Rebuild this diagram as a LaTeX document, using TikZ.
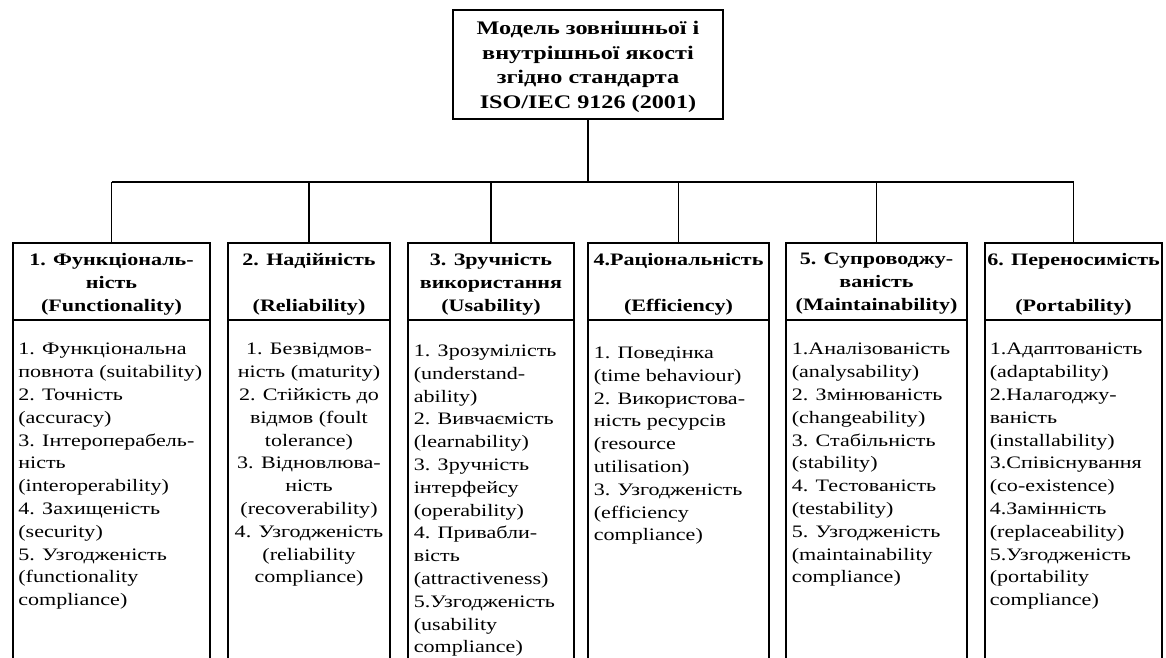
\documentclass[tikz,border=0pt]{standalone}
\usepackage{fontspec}
\setmainfont{Liberation Serif}[FakeStretch=1.26]
\usetikzlibrary{positioning}

\begin{document}
\begin{tikzpicture}[
  x=1pt, y=-1pt,
  line width=1.7pt,
  every node/.style={font=\fontsize{17.5}{22.8}\selectfont},
  headbox/.style={draw, minimum height=77pt, inner sep=0pt, outer sep=0pt},
  headtext/.style={inner sep=0pt, align=center, font=\fontsize{17.5}{23}\selectfont\bfseries},
  bodybox/.style={draw, minimum height=420pt, inner sep=0pt, outer sep=0pt},
  item/.style={inner sep=0pt, align=left, anchor=north west},
  itemc/.style={inner sep=0pt, align=center, anchor=north}
]
\useasboundingbox (0,0) rectangle (1166,657);
\clip (0,0) rectangle (1166,657);

\node[draw, minimum width=270pt, minimum height=109pt, inner sep=0pt] (top) at (588,64.5) {};
\node[inner sep=0pt, align=center, font=\fontsize{19.2}{24.5}\selectfont\bfseries]
  (toptext) at ([yshift=-2.5pt]top.center)
  {Модель зовнішньої і\\внутрішньої якості\\згідно стандарта\\ISO/IEC 9126 (2001)};

% characteristics
\node[headbox, minimum width=197pt] (h1) at (111.5,281.5) {};
\node[headbox, minimum width=162pt] (h2) at (309,281.5)   {};
\node[headbox, minimum width=166pt] (h3) at (491,281.5)   {};
\node[headbox, minimum width=181pt] (h4) at (678.5,281.5) {};
\node[headbox, minimum width=181pt] (h5) at (876.5,281.5) {};
\node[headbox, minimum width=177pt] (h6) at (1073.5,281.5) {};

\node[headtext] (l1) at ([yshift=-2.5pt]h1.center) {1. Функціональ-\\ність\\(Functionality)};
\node[headtext] (l2) at ([yshift=-2.5pt]h2.center) {2. Надійність\\~\\(Reliability)};
\node[headtext] (l3) at ([yshift=-2.5pt]h3.center) {3. Зручність\\використання\\(Usability)};
\node[headtext] (l4) at ([yshift=-2.5pt]h4.center) {4.Раціональність\\~\\(Efficiency)};
\node[headtext] (l5) at ([yshift=-2.5pt]h5.center) {5. Супроводжу-\\ваність\\(Maintainability)};
\node[headtext] (l6) at ([yshift=-2.5pt]h6.center) {6. Переносимість\\~\\(Portability)};

\node[bodybox, minimum width=197pt, below=0pt of h1] (b1) {};
\node[bodybox, minimum width=162pt, below=0pt of h2] (b2) {};
\node[bodybox, minimum width=166pt, below=0pt of h3] (b3) {};
\node[bodybox, minimum width=181pt, below=0pt of h4] (b4) {};
\node[bodybox, minimum width=181pt, below=0pt of h5] (b5) {};
\node[bodybox, minimum width=177pt, below=0pt of h6] (b6) {};

% subcharacteristics
\node[item] (t1) at (17.5,342.5) {1. Функціональна\\повнота (suitability)\\2. Точність\\(accuracy)\\3. Інтероперабель-\\ність\\(interoperability)\\4. Захищеність\\(security)\\5. Узгодженість\\(functionality\\compliance)};
\node[itemc] (t2) at (309,342.5) {1. Безвідмов-\\ність (maturity)\\2. Стійкість до\\відмов (foult\\tolerance)\\3. Відновлюва-\\ність\\(recoverability)\\4. Узгодженість\\(reliability\\compliance)};
\node[item] (t3) at (413,344) {1. Зрозумілість\\(understand-\\ability)\\2. Вивчаємість\\(learnability)\\3. Зручність\\інтерфейсу\\(operability)\\4. Привабли-\\вість\\(attractiveness)\\5.Узгодженість\\(usability\\compliance)};
\node[item] (t4) at (593,346) {1. Поведінка\\(time behaviour)\\2. Використова-\\ність ресурсів\\(resource\\utilisation)\\3. Узгодженість\\(efficiency\\compliance)};
\node[item] (t5) at (791,342.5) {1.Аналізованість\\(analysability)\\2. Змінюваність\\(changeability)\\3. Стабільність\\(stability)\\4. Тестованість\\(testability)\\5. Узгодженість\\(maintainability\\compliance)};
\node[item] (t6) at (989,342.5) {1.Адаптованість\\(adaptability)\\2.Налагоджу-\\ваність\\(installability)\\3.Співіснування\\(co-existence)\\4.Замінність\\(replaceability)\\5.Узгодженість\\(portability\\compliance)};

% connectors
\coordinate (bus) at (588,182);
\draw (top.south) -- (bus);
\draw (h1.north |- bus) -- (h6.north |- bus);
\foreach \i in {1,...,6}
  \draw (h\i.north) -- (h\i.north |- bus);
\end{tikzpicture}
\end{document}
